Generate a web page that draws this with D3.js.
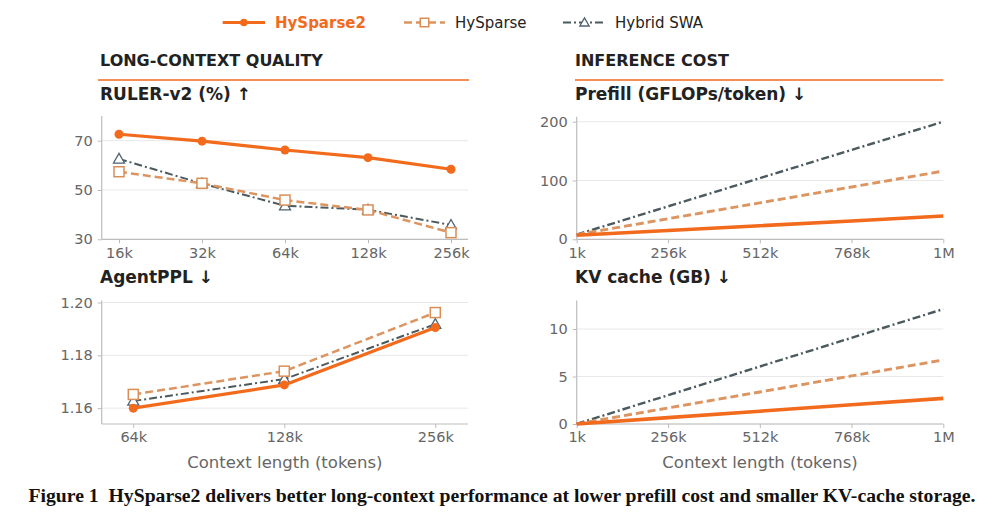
<!DOCTYPE html>
<html><head><meta charset="utf-8">
<script src="https://cdn.jsdelivr.net/npm/d3@7"></script>
<style>
html,body{margin:0;padding:0;background:#fff;}
svg{display:block;}
text{font-family:"DejaVu Sans",sans-serif;}
text.cap{font-family:"Liberation Serif","DejaVu Serif",serif;}
</style></head>
<body>
<svg id="c" width="1000" height="530"></svg>
<script>
// ---- data ----
const seriesNames = ["HySparse2", "HySparse", "Hybrid SWA"];
const rulerLengths = [16, 32, 64, 128, 256];           // k tokens
const rulerHySparse2 = [72.6, 69.8, 66.2, 63.1, 58.4];
const rulerHySparse  = [57.4, 52.7, 45.9, 41.9, 32.7];
const rulerHybridSWA = [62.6, 52.6, 43.6, 42.0, 35.8];
const rulerTicks = [30, 50, 70];

const pplLengths = [64, 128, 256];
const pplHySparse2 = [1.1600, 1.1688, 1.1905];
const pplHySparse  = [1.1652, 1.1740, 1.1962];
const pplHybridSWA = [1.1627, 1.1710, 1.1918];
const pplTicks = [1.16, 1.18, 1.20];

const costLengths = [1, 256, 512, 768, 1024];           // k tokens
const costTickLabels = ["1k", "256k", "512k", "768k", "1M"];
const prefillHySparse2 = [7, 15, 23, 31, 39.5];
const prefillHySparse  = [8, 35, 62, 89, 116];
const prefillHybridSWA = [8, 56, 104, 152, 200];
const prefillTicks = [0, 100, 200];
const kvHySparse2 = [0.003, 0.67, 1.35, 2.02, 2.7];
const kvHySparse  = [0.007, 1.69, 3.37, 5.06, 6.74];
const kvHybridSWA = [0.012, 3.03, 6.05, 9.07, 12.1];
const kvTicks = [0, 5, 10];

const headers = ["LONG-CONTEXT QUALITY", "INFERENCE COST"];
const titles = ["RULER-v2 (%) ↑", "AgentPPL ↓", "Prefill (GFLOPs/token) ↓", "KV cache (GB) ↓"];
const xLabel = "Context length (tokens)";
const caption = "Figure 1\u00a0\u00a0HySparse2 delivers better long-context performance at lower prefill cost and smaller KV-cache storage.";

// ---- styles ----
const styles = {
  "HySparse2":  {color:"#F26A1C", width:3.2, dash:null, marker:"circle", edge:"#F26A1C"},
  "HySparse":   {color:"#DC9460", width:2.5, dash:"8,4", marker:"square", edge:"#D98E57"},
  "Hybrid SWA": {color:"#4B5A5E", width:2, dash:"8,3,2,3", marker:"triangle", edge:"#4E6272"}
};
const ORANGE = "#F26A1C";
const svg = d3.select("#c");

// legend
const legendX = [[222.7,265,275],[404,445,455],[563,606,615]];
seriesNames.forEach((n,i)=>{
  const s = styles[n], g = svg.append("g");
  const [x0,x1,tx] = legendX[i], y = 22.5;
  g.append("line").attr("x1",x0).attr("x2",x1).attr("y1",y).attr("y2",y)
    .attr("stroke",s.color).attr("stroke-width",s.width).attr("stroke-dasharray",s.dash);
  drawMarker(g,(x0+x1)/2,y,s,0.85);
  g.append("text").attr("x",tx).attr("y",28).text(n)
    .attr("font-size","15px").attr("font-weight", i===0?"bold":"normal")
    .attr("fill", i===0?ORANGE:"#222");
});

function drawMarker(g,x,y,s,k){
  k = k||1;
  if(s.marker==="circle"){
    g.append("circle").attr("cx",x).attr("cy",y).attr("r",4.5*k).attr("fill",s.color);
  } else if(s.marker==="square"){
    const h=5*k;
    g.append("rect").attr("x",x-h).attr("y",y-h).attr("width",2*h).attr("height",2*h)
      .attr("fill","#fff").attr("stroke",s.edge).attr("stroke-width",1.5);
  } else {
    const h=5.5*k;
    g.append("path").attr("d",`M${x},${y-h}L${x+h},${y+h*0.75}L${x-h},${y+h*0.75}Z`)
      .attr("fill","#fff").attr("stroke",s.edge).attr("stroke-width",1.3);
  }
}

// headers
[[100,98,469],[575,575,943.3]].forEach((p,i)=>{
  svg.append("text").attr("x",p[0]).attr("y",66).text(headers[i])
    .attr("font-size","16px").attr("font-weight","bold").attr("fill","#222");
  svg.append("line").attr("x1",p[1]).attr("x2",p[2]).attr("y1",80).attr("y2",80)
    .attr("stroke",ORANGE).attr("stroke-width",1.6);
});

function panel(cfg){
  const g = svg.append("g");
  const {x,y,xl,xr,yb,yt} = cfg;
  g.append("text").attr("x",cfg.tx).attr("y",cfg.ty).text(cfg.title)
    .attr("font-size","17px").attr("font-weight","bold").attr("fill","#222");
  cfg.yTicks.forEach(t=>{
    g.append("line").attr("x1",xl).attr("x2",xr).attr("y1",y(t)).attr("y2",y(t))
      .attr("stroke","#e8e8e8").attr("stroke-width",1);
  });
  const ya = g.append("g").attr("transform",`translate(${xl},0)`)
    .call(d3.axisLeft(y).tickValues(cfg.yTicks).tickSize(4).tickPadding(5).tickFormat(cfg.yFmt));
  ya.select(".domain").remove();
  ya.selectAll(".tick line").attr("stroke","#bbb");
  ya.selectAll("text").attr("font-size","14.5px").attr("fill","#666").attr("font-family","DejaVu Sans");
  g.append("line").attr("x1",xl).attr("x2",xl).attr("y1",yt).attr("y2",yb).attr("stroke","#bdbdbd").attr("stroke-width",1.2);
  const xa = g.append("g").attr("transform",`translate(0,${yb})`)
    .call(d3.axisBottom(x).tickValues(cfg.xTicks).tickSize(4).tickPadding(4).tickFormat((d,i)=>cfg.xFmt[i]));
  xa.select(".domain").remove();
  xa.selectAll(".tick line").attr("stroke","#bbb");
  xa.selectAll("text").attr("font-size","14.5px").attr("fill","#666").attr("font-family","DejaVu Sans");
  g.append("line").attr("x1",xl).attr("x2",xr).attr("y1",yb).attr("y2",yb).attr("stroke","#bdbdbd").attr("stroke-width",1.2);
  if(cfg.xLabel){
    g.append("text").attr("x",(xl+xr)/2).attr("y",468).attr("text-anchor","middle")
      .text(cfg.xLabel).attr("font-size","16.5px").attr("fill","#666");
  }
  [2,1,0].forEach(i=>{
    const n = seriesNames[i], s = styles[n], vals = cfg.series[i];
    const pts = cfg.xs.map((xv,j)=>[x(xv),y(vals[j])]);
    g.append("path").attr("d",d3.line()(pts)).attr("fill","none")
      .attr("stroke",s.color).attr("stroke-width",cfg.markers? s.width : s.width+0.4)
      .attr("stroke-dasharray",s.dash).attr("stroke-linejoin","round");
    if(cfg.markers) pts.forEach(p=>drawMarker(g,p[0],p[1],s,1));
  });
}

panel({
  title:titles[0], tx:100, ty:100,
  x:d3.scaleLog().base(2).domain([16,256]).range([119,451]),
  y:d3.scaleLinear().domain([30,80]).range([239.3,116]),
  xl:101.7, xr:468, yb:239.3, yt:116,
  yTicks:rulerTicks, yFmt:d3.format("d"),
  xTicks:rulerLengths, xFmt:rulerLengths.map(d=>d+"k"),
  xs:rulerLengths, series:[rulerHySparse2, rulerHySparse, rulerHybridSWA], markers:true
});
panel({
  title:titles[1], tx:100, ty:283,
  x:d3.scaleLog().base(2).domain([64,256]).range([133.3,435.3]),
  y:d3.scaleLinear().domain([1.154,1.2008]).range([424,300.4]),
  xl:101.7, xr:468, yb:424, yt:300.4,
  yTicks:pplTicks, yFmt:d3.format(".2f"),
  xTicks:pplLengths, xFmt:pplLengths.map(d=>d+"k"),
  xs:pplLengths, series:[pplHySparse2, pplHySparse, pplHybridSWA], markers:true,
  xLabel:xLabel
});
panel({
  title:titles[2], tx:575, ty:100,
  x:d3.scaleLinear().domain([1,1024]).range([576.7,943.3]),
  y:d3.scaleLinear().domain([0,208.5]).range([239.3,116.7]),
  xl:576.7, xr:943.3, yb:239.3, yt:116.7,
  yTicks:prefillTicks, yFmt:d3.format("d"),
  xTicks:costLengths, xFmt:costTickLabels,
  xs:costLengths, series:[prefillHySparse2, prefillHySparse, prefillHybridSWA], markers:false
});
panel({
  title:titles[3], tx:575, ty:283,
  x:d3.scaleLinear().domain([1,1024]).range([576.7,943.3]),
  y:d3.scaleLinear().domain([0,13]).range([424,300.5]),
  xl:576.7, xr:943.3, yb:424, yt:300.5,
  yTicks:kvTicks, yFmt:d3.format("d"),
  xTicks:costLengths, xFmt:costTickLabels,
  xs:costLengths, series:[kvHySparse2, kvHySparse, kvHybridSWA], markers:false,
  xLabel:xLabel
});

// caption (fit to measured width)
const cap = svg.append("text").attr("class","cap").attr("x",28.5).attr("y",501.5).text(caption)
  .attr("font-weight","bold").attr("font-size","18px").attr("fill","#111");
const w = cap.node().getComputedTextLength();
const target = 948;
cap.attr("font-size", (18*target/w).toFixed(2)+"px");
</script>
</body></html>
